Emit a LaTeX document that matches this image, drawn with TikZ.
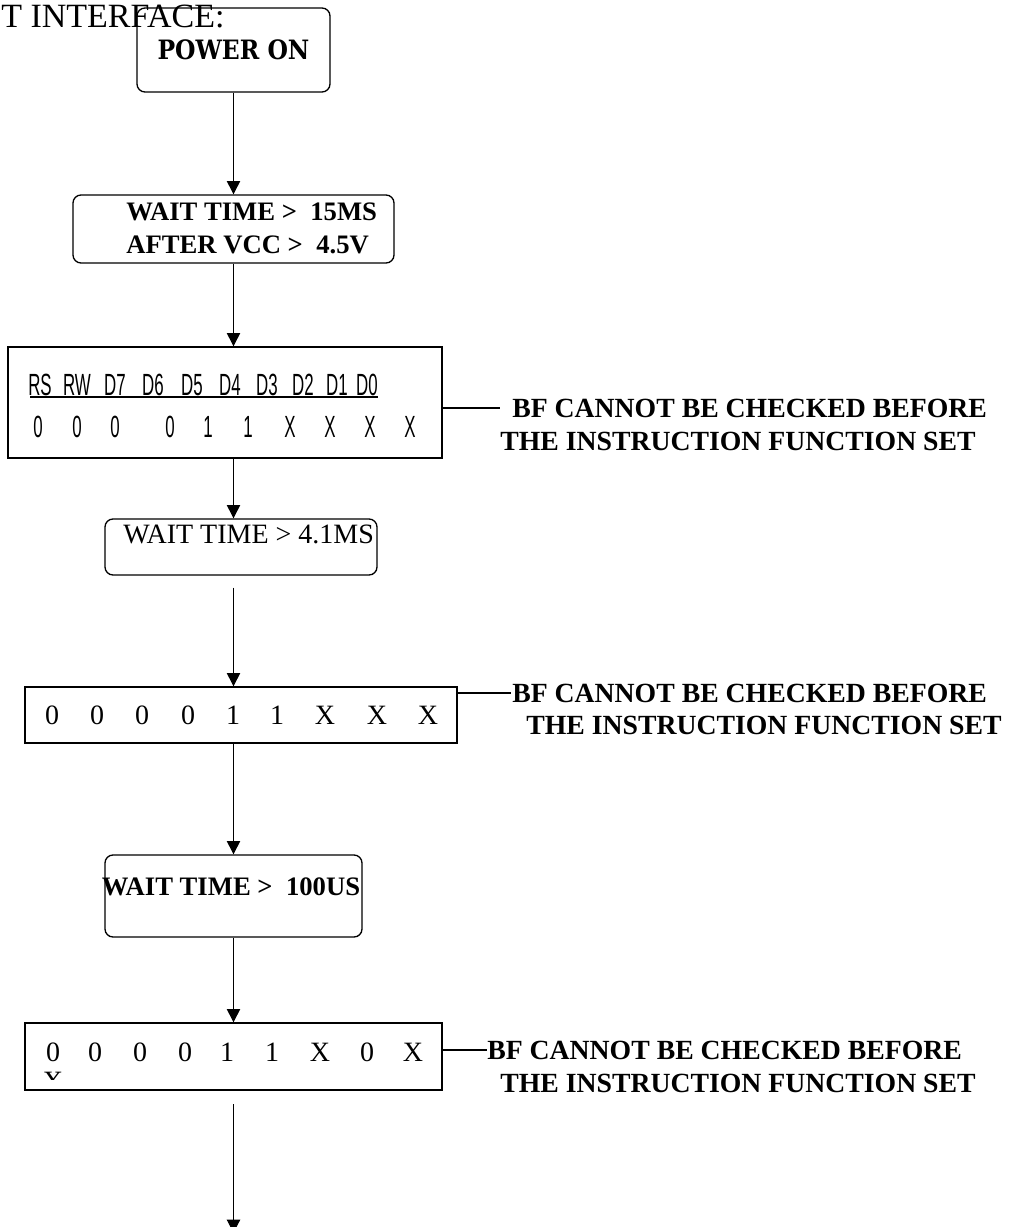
\documentclass[tikz,border=0pt]{standalone}
\usepackage{fontspec}
\setmainfont{Liberation Serif}
\newfontfamily\regfont[FakeStretch=0.55]{Liberation Sans}
\newfontfamily\powfont[FakeStretch=0.88]{DejaVu Serif}
\usetikzlibrary{arrows.meta}

\begin{document}
\begin{tikzpicture}[x=0.75pt,y=-0.75pt]

      \tikzset{rbox/.style={draw, line width=1pt, rounded corners=6pt, inner sep=0pt},
               sbox/.style={draw, line width=1pt, inner sep=0pt},
               arr/.style={line width=0.8pt, -{Triangle[width=10pt,length=10pt]}},
               txt/.style={inner sep=0pt, font=\fontsize{21}{25}\selectfont},
               btxt/.style={inner sep=0pt, font=\fontsize{20}{25}\selectfont\bfseries},
               note/.style={inner sep=0pt, anchor=west, font=\fontsize{20.8}{25}\selectfont\bfseries},
               reg/.style={inner sep=0pt, font=\fontsize{23}{27}\selectfont\regfont}}
      \useasboundingbox (0,0) rectangle (1010,1227);
%% Title
      	\node[inner sep=0pt, anchor=base west, font=\fontsize{25.5}{30}\selectfont] (title) at (1,28) {T INTERFACE:};
%% Boxes
      	\node[rbox, minimum width=144.75pt, minimum height=63pt, font=\fontsize{20}{24}\selectfont\powfont\bfseries] (on) at (233.5,50) {POWER ON};
      	\node[rbox, minimum width=240.75pt, minimum height=51pt] (wait1) at (233.5,229) {};
      	\node[sbox, minimum width=325.5pt, minimum height=83.25pt] (set1) at (225,402.5) {};
      	\node[rbox, minimum width=204pt, minimum height=42pt] (wait2) at (241,547) {};
      	\node[sbox, minimum width=324pt, minimum height=42pt] (set2) at (241,715) {};
      	\node[rbox, minimum width=192.75pt, minimum height=61.5pt] (wait3) at (233.5,896) {};
      	\node[sbox, minimum width=312.75pt, minimum height=50.25pt] (set3) at (233.5,1056.5) {};
      	\coordinate (fin) at (233.5,1233);
%% Box texts
      	\node[btxt, anchor=west, align=left] (w1txt) at (126,228.5) {WAIT TIME > \ 15MS\\AFTER VCC > \ 4.5V};
      	\foreach \x/\v [count=\i] in {40/RS,77/RW,115/D7,153/D6,192/D5,230/D4,267/D3,303/D2,337/D1,367/D0}
      		\node[reg] (hd\i) at (\x,385) {\v};
      	\draw[line width=1.2pt] (30,397) -- (378,397);
      	\foreach \x/\v [count=\i] in {38/0,77/0,115/0,170/0,208/1,248/1,290/X,330/X,370/X,410/X}
      		\node[reg] (bt\i) at (\x,427) {\v};
      	\node[txt, anchor=west] (w2txt) at (123,534) {WAIT TIME > 4.1MS};
      	\foreach \x/\v [count=\i] in {52/0,97/0,142/0,188/0,233/1,277/1,325/X,377/X,428/X}
      		\node[txt] (sb\i) at (\x,715) {\v};
      	\node[btxt] (w3txt) at (231,887) {WAIT TIME > \ 100US};
      	\foreach \x/\v [count=\i] in {53/0,95/0,140/0,185/0,227/1,272/1,320/X,367/0,413/X}
      		\node[txt] (tb\i) at (\x,1052) {\v};
      	\begin{scope}
      		\clip (25,1023) rectangle (442,1079);
      		\node[txt] (tbx) at (53,1081) {X};
      	\end{scope}
%% Notes
      	\node[note] (n1a) at (512,408) {BF CANNOT BE CHECKED BEFORE};
      	\node[note] (n1b) at (500,441) {THE INSTRUCTION FUNCTION SET};
      	\node[note] (n2a) at (512,693) {BF CANNOT BE CHECKED BEFORE};
      	\node[note] (n2b) at (526,725) {THE INSTRUCTION FUNCTION SET};
      	\node[note] (n3a) at (487,1050) {BF CANNOT BE CHECKED BEFORE};
      	\node[note] (n3b) at (500,1083) {THE INSTRUCTION FUNCTION SET};
%Edges
		\draw[arr] (on.south) -- (wait1.north);
		\draw[arr] (wait1.south) -- (set1.north -| on);
		\draw[arr] (set1.south -| on) -- (wait2.north -| on);
		\draw[arr, shorten <=9pt] (wait2.south -| on) -- (set2.north -| on);
		\draw[arr] (set2.south -| on) -- (wait3.north);
		\draw[arr] (wait3.south) -- (set3.north);
		\draw[arr, shorten <=10pt] (set3.south) -- (fin);
		\draw[line width=1pt, shorten >=9pt] (set1.east |- n1a.west) -- (n1a.west);
		\draw[line width=1pt, shorten >=1pt] (set2.east |- n2a.west) -- (n2a.west);
		\draw[line width=1pt] (set3.east |- n3a.west) -- (n3a.west);

	\end{tikzpicture}
\end{document}
